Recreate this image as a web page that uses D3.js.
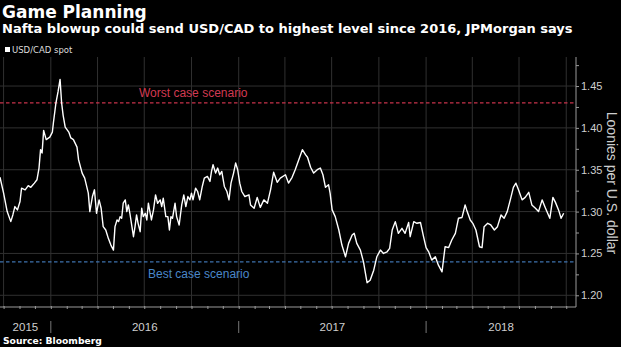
<!DOCTYPE html>
<html><head><meta charset="utf-8">
<script src="https://cdnjs.cloudflare.com/ajax/libs/d3/7.8.5/d3.min.js"></script>
<style>html,body{margin:0;padding:0;background:#000;overflow:hidden}</style>
</head><body><svg id="c" width="621" height="347"></svg>
<script>
const title = "Game Planning";
const subtitle = "Nafta blowup could send USD/CAD to highest level since 2016, JPMorgan says";
const seriesName = "USD/CAD spot";
const source = "Source: Bloomberg";
const yAxisTitle = "Loonies per U.S. dollar";
const yTickValues = [1.20, 1.25, 1.30, 1.35, 1.40, 1.45];
const yTickLabels = ["1.20", "1.25", "1.30", "1.35", "1.40", "1.45"];
const yearLabels = ["2015", "2016", "2017", "2018"];
const refValues = [1.43, 1.24];
const refLabels = ["Worst case scenario", "Best case scenario"];

const dates2015 = ["2015-09-24","2015-10-01","2015-10-08","2015-10-15","2015-10-19","2015-10-23","2015-10-28","2015-11-02","2015-11-05","2015-11-12","2015-11-18","2015-11-23","2015-11-30","2015-12-05","2015-12-09","2015-12-12","2015-12-15","2015-12-18","2015-12-23","2015-12-30"];
const values2015 = [1.341,1.322,1.300,1.288,1.296,1.306,1.302,1.312,1.328,1.326,1.331,1.329,1.334,1.338,1.352,1.374,1.370,1.397,1.386,1.389];

const dates2016 = ["2016-01-04","2016-01-06","2016-01-11","2016-01-15","2016-01-19","2016-01-22","2016-01-25","2016-01-29","2016-02-05","2016-02-09","2016-02-14","2016-02-21","2016-02-24","2016-03-02",
"2016-03-07","2016-03-14","2016-03-17","2016-03-22","2016-03-26","2016-03-30","2016-04-04","2016-04-08","2016-04-12","2016-04-17","2016-04-22","2016-04-27","2016-05-02","2016-05-05","2016-05-09","2016-05-12","2016-05-15","2016-05-18","2016-05-21","2016-05-25","2016-05-28","2016-05-31",
"2016-06-03","2016-06-07","2016-06-10","2016-06-13","2016-06-16","2016-06-19","2016-06-23","2016-06-26","2016-06-29","2016-07-03","2016-07-06","2016-07-09","2016-07-12","2016-07-15","2016-07-19","2016-07-23","2016-07-27",
"2016-08-01","2016-08-04","2016-08-07","2016-08-12","2016-08-16","2016-08-19","2016-08-22","2016-08-25","2016-08-30","2016-09-02","2016-09-07","2016-09-12","2016-09-16","2016-09-20","2016-09-24","2016-09-28",
"2016-10-01","2016-10-04","2016-10-09","2016-10-13","2016-10-17","2016-10-22","2016-10-26","2016-11-01","2016-11-06","2016-11-09","2016-11-12","2016-11-17","2016-11-21","2016-11-25","2016-11-29",
"2016-12-04","2016-12-09","2016-12-13","2016-12-17","2016-12-22","2016-12-26","2016-12-30"];
const values2016 = [1.395,1.406,1.430,1.443,1.458,1.430,1.415,1.401,1.395,1.388,1.386,1.377,1.362,1.346,
1.340,1.322,1.300,1.318,1.326,1.298,1.314,1.304,1.282,1.278,1.268,1.260,1.254,1.282,1.290,1.288,1.294,1.292,1.310,1.314,1.300,1.308,
1.298,1.282,1.270,1.282,1.296,1.286,1.276,1.304,1.294,1.298,1.290,1.310,1.300,1.290,1.302,1.320,1.310,
1.314,1.306,1.316,1.294,1.294,1.278,1.294,1.292,1.310,1.294,1.284,1.308,1.320,1.306,1.318,1.314,
1.322,1.314,1.328,1.324,1.314,1.330,1.340,1.342,1.336,1.348,1.356,1.346,1.352,1.344,1.348,
1.330,1.324,1.314,1.334,1.346,1.358,1.350];

const dates2017 = ["2017-01-03","2017-01-07","2017-01-13","2017-01-21","2017-01-24","2017-01-31","2017-02-06","2017-02-12","2017-02-19","2017-02-26","2017-03-04","2017-03-10","2017-03-17","2017-03-23","2017-04-02","2017-04-08","2017-04-15","2017-04-21","2017-04-28",
"2017-05-05","2017-05-11","2017-05-15","2017-05-21","2017-05-27","2017-06-03","2017-06-09","2017-06-14","2017-06-19","2017-06-25","2017-06-28","2017-07-02","2017-07-08","2017-07-15","2017-07-21","2017-07-28",
"2017-08-03","2017-08-10","2017-08-14","2017-08-19","2017-08-26","2017-09-01","2017-09-08","2017-09-14","2017-09-21","2017-09-27","2017-10-04","2017-10-10","2017-10-17","2017-10-22","2017-10-27",
"2017-11-02","2017-11-08","2017-11-15","2017-11-21","2017-11-28","2017-12-01","2017-12-08","2017-12-14","2017-12-21","2017-12-27"];
const values2017 = [1.334,1.324,1.318,1.320,1.308,1.304,1.317,1.305,1.314,1.310,1.326,1.347,1.335,1.340,1.344,1.334,1.341,1.350,1.362,
1.374,1.368,1.365,1.353,1.346,1.350,1.352,1.344,1.329,1.332,1.322,1.302,1.294,1.278,1.260,1.246,
1.262,1.272,1.274,1.262,1.254,1.240,1.215,1.218,1.230,1.246,1.254,1.250,1.252,1.256,1.278,
1.288,1.274,1.280,1.274,1.287,1.270,1.288,1.286,1.287,1.270];

const dates2018 = ["2018-01-01","2018-01-06","2018-01-12","2018-01-19","2018-01-25","2018-02-01","2018-02-07","2018-02-14","2018-02-20","2018-02-27","2018-03-05","2018-03-12","2018-03-18","2018-03-21","2018-03-28",
"2018-04-02","2018-04-08","2018-04-15","2018-04-20","2018-04-24","2018-05-01","2018-05-07","2018-05-14","2018-05-20","2018-05-27","2018-06-02","2018-06-08","2018-06-14","2018-06-20","2018-06-25","2018-06-30",
"2018-07-07","2018-07-13","2018-07-20","2018-07-26","2018-08-02","2018-08-08","2018-08-15","2018-08-21","2018-08-30","2018-09-05","2018-09-10","2018-09-16","2018-09-21","2018-09-26"];
const values2018 = [1.257,1.252,1.242,1.246,1.236,1.228,1.258,1.257,1.266,1.274,1.292,1.293,1.308,1.302,1.290,
1.286,1.278,1.258,1.257,1.282,1.286,1.284,1.278,1.282,1.296,1.292,1.300,1.314,1.329,1.334,1.326,
1.314,1.317,1.323,1.308,1.304,1.300,1.314,1.305,1.292,1.317,1.311,1.302,1.292,1.298];

const W = 621, H = 347;
const L = 0, R = 576, T = 57, B = 307;
const svg = d3.select("#c");
svg.append("rect").attr("width", W).attr("height", H).attr("fill", "#000");

const parse = d3.timeParse("%Y-%m-%d");
const allDates = [].concat(dates2015, dates2016, dates2017, dates2018);
const allValues = [].concat(values2015, values2016, values2017, values2018);
const data = allDates.map((d, i) => ({date: parse(d), v: allValues[i]}));
const x0 = parse("2015-09-24"), x1 = parse("2018-10-20");
const x = d3.scaleTime().domain([x0, x1]).range([L, R]);
const y = d3.scaleLinear().domain([1.186, 1.4847]).range([B, T]);

// grid
const grid = svg.append("g");
grid.selectAll(".hg").data(yTickValues).join("line")
  .attr("x1", L).attr("x2", R).attr("y1", d => y(d)).attr("y2", d => y(d))
  .attr("stroke", "#303030").attr("stroke-width", 1);
grid.selectAll(".vg").data(d3.timeMonth.every(3).range(x0, x1)).join("line")
  .attr("x1", d => x(d)).attr("x2", d => x(d)).attr("y1", T).attr("y2", B)
  .attr("stroke", "#303030").attr("stroke-width", 1);

// reference lines
const refColors = ["#c8334b", "#3e72ad"];
const refTextColors = ["#d23a52", "#4a87c9"];
refValues.forEach((v, i) => {
  svg.append("line").attr("x1", L).attr("x2", R).attr("y1", y(v)).attr("y2", y(v))
    .attr("stroke", refColors[i]).attr("stroke-width", 1.3).attr("stroke-dasharray", "3.5,2.5");
});
svg.append("text").attr("x", 139).attr("y", y(refValues[0]) - 6)
  .attr("font-family", "Liberation Sans, Arial, sans-serif").attr("font-size", 12)
  .attr("fill", refTextColors[0]).text(refLabels[0]);
svg.append("text").attr("x", 148).attr("y", y(refValues[1]) + 16)
  .attr("font-family", "Liberation Sans, Arial, sans-serif").attr("font-size", 12)
  .attr("fill", refTextColors[1]).text(refLabels[1]);

// series line
svg.append("path").datum(data)
  .attr("d", d3.line().x(d => x(d.date)).y(d => y(d.v)))
  .attr("fill", "none").attr("stroke", "#fff").attr("stroke-width", 1.4)
  .attr("stroke-linejoin", "round");

// y axis (right)
const yAxis = d3.axisRight(y).tickValues(d3.range(1.20, 1.476, 0.025))
  .tickSize(3).tickFormat(d => {
    const k = yTickValues.findIndex(t => Math.abs(t - d) < 1e-6);
    return k >= 0 ? yTickLabels[k] : "";
  });
const ya = svg.append("g").attr("transform", `translate(${R},0)`).call(yAxis);
ya.select(".domain").attr("d", `M0,${T}V${B}`).attr("stroke", "#9a9a9a");
ya.selectAll(".tick line").attr("stroke", "#9a9a9a");
ya.selectAll(".tick text").attr("fill", "#cfcfcf").attr("x", 5)
  .attr("font-family", "Liberation Sans, Arial, sans-serif").attr("font-size", 11);

svg.append("text").attr("transform", `translate(607,183) rotate(90)`)
  .attr("text-anchor", "middle").attr("font-family", "Liberation Sans, Arial, sans-serif")
  .attr("font-size", 14).attr("fill", "#cfcfcf").text(yAxisTitle);

// x axis
const xAxis = d3.axisBottom(x).ticks(d3.timeMonth.every(1)).tickSize(2).tickFormat("");
const xa = svg.append("g").attr("transform", `translate(0,${B})`).call(xAxis);
xa.select(".domain").attr("d", `M${L},0H${R}`).attr("stroke", "#9a9a9a");
xa.selectAll(".tick line").attr("stroke", "#9a9a9a").attr("y1", -1);

const yearStarts = d3.timeYear.range(d3.timeYear.ceil(x0), x1);
svg.selectAll(".ysep").data(yearStarts).join("line")
  .attr("x1", d => x(d)).attr("x2", d => x(d)).attr("y1", 321).attr("y2", 333)
  .attr("stroke", "#777").attr("stroke-width", 1);
const bounds = [x0, ...yearStarts, x1];
svg.selectAll(".ylab").data(yearLabels).join("text")
  .attr("x", (d, i) => (x(bounds[i]) + x(bounds[i + 1])) / 2).attr("y", 331)
  .attr("text-anchor", "middle").attr("font-family", "Liberation Sans, Arial, sans-serif")
  .attr("font-size", 11.5).attr("fill", "#cfcfcf").text(d => d);

// header
svg.append("text").attr("x", 2).attr("y", 17.5).attr("font-family", "DejaVu Sans, sans-serif")
  .attr("font-weight", "bold").attr("font-size", 17).attr("fill", "#fff").text(title);
svg.append("text").attr("x", 2).attr("y", 33).attr("font-family", "DejaVu Sans, sans-serif")
  .attr("font-weight", "bold").attr("font-size", 13).attr("fill", "#fff").text(subtitle);
svg.append("rect").attr("x", 5).attr("y", 47).attr("width", 5).attr("height", 5).attr("fill", "#fff");
svg.append("text").attr("x", 12).attr("y", 52.5).attr("font-family", "DejaVu Sans, sans-serif")
  .attr("font-size", 8.5).attr("fill", "#ddd").text(seriesName);
svg.append("text").attr("x", 3).attr("y", 344).attr("font-family", "DejaVu Sans, sans-serif")
  .attr("font-weight", "bold").attr("font-size", 9.2).attr("fill", "#fff").text(source);
</script></body></html>
